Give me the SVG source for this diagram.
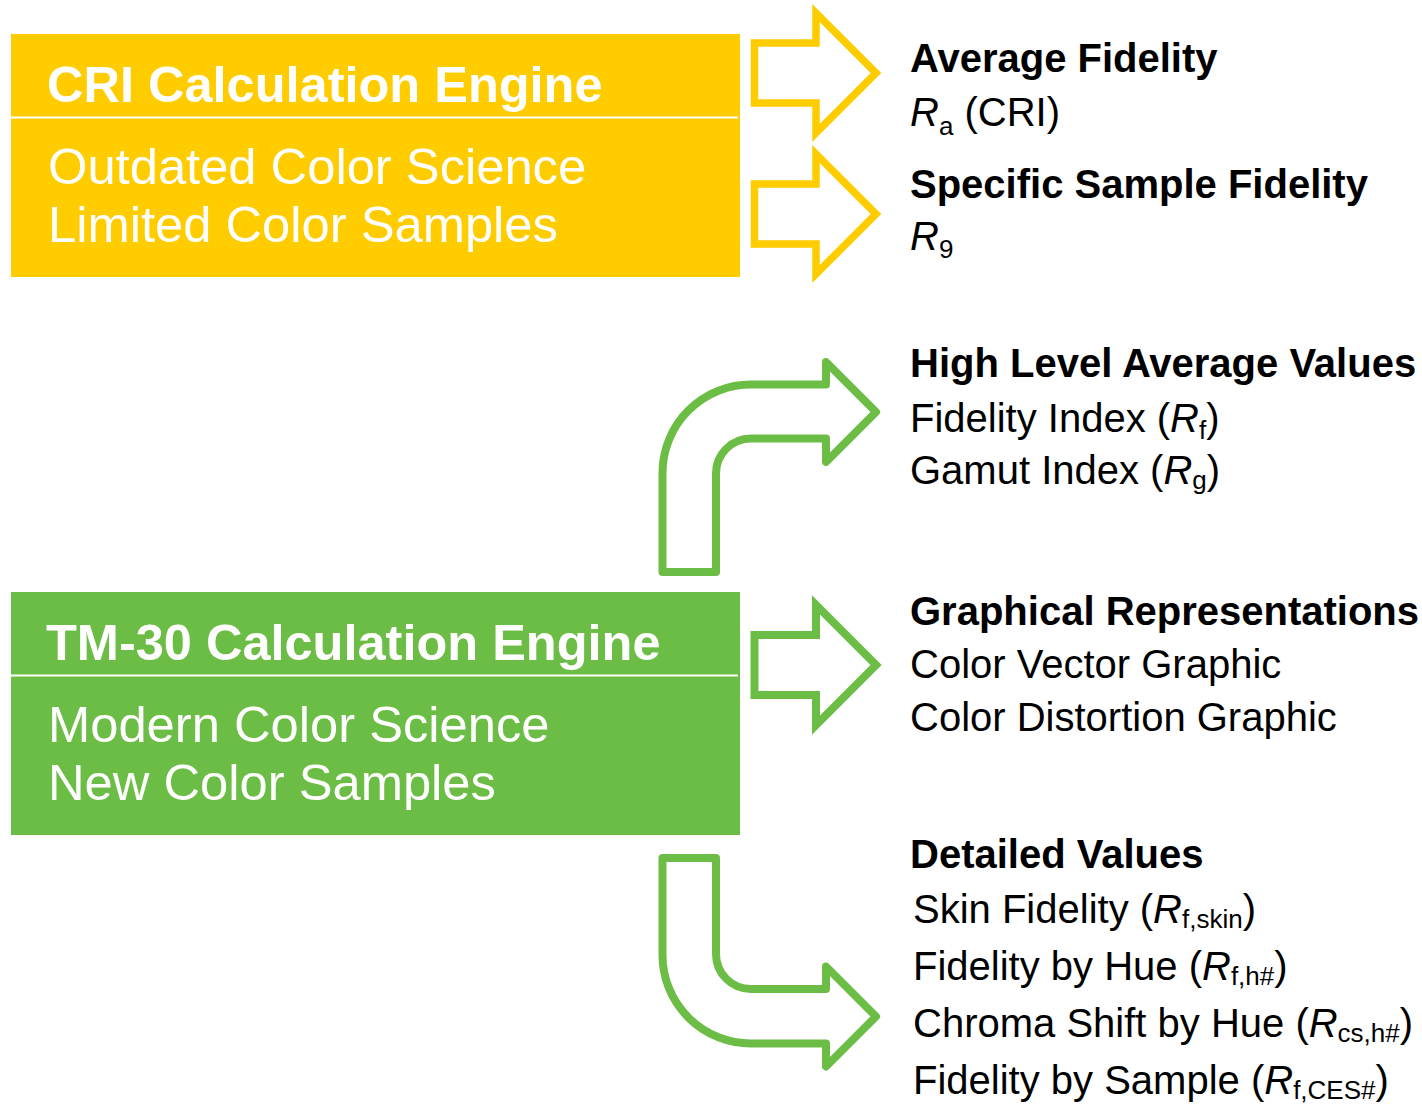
<svg xmlns="http://www.w3.org/2000/svg" width="1422" height="1104" viewBox="0 0 1422 1104">
<style>
.t{font-family:"Liberation Sans",Arial,sans-serif;}
.box-title{font-size:50.5px;font-weight:bold;fill:#fff;}
.box-line{font-size:50.7px;fill:#fff;}
.h{font-size:40px;font-weight:bold;fill:#000;}
.r{font-size:40px;fill:#000;}
.sub{font-size:26px;font-style:normal;}
.it{font-style:italic;}
.ya{fill:none;stroke:#FFCC00;stroke-width:7.5;stroke-linejoin:miter;stroke-miterlimit:10;}
.ga{fill:none;stroke:#6CBD45;stroke-width:8;stroke-linejoin:miter;stroke-miterlimit:10;}
.gc{fill:none;stroke:#6CBD45;stroke-width:8;stroke-linejoin:round;}
.sep{stroke:#fff;stroke-width:2;}
</style>
<rect width="1422" height="1104" fill="#fff"/>
<g id="cri-engine">
  <rect x="11" y="34" width="729" height="243" fill="#FFCC00"/>
  <line class="sep" x1="11" y1="117.5" x2="738" y2="117.5"/>
  <text class="t box-title" x="47" y="102">CRI Calculation Engine</text>
  <text class="t box-line" x="48" y="184">Outdated Color Science</text>
  <text class="t box-line" x="48" y="242">Limited Color Samples</text>
</g>
<g id="tm30-engine">
  <rect x="11" y="592" width="729" height="243" fill="#6CBD45"/>
  <line class="sep" x1="11" y1="675.5" x2="738" y2="675.5"/>
  <text class="t box-title" x="46" y="660">TM-30 Calculation Engine</text>
  <text class="t box-line" x="48" y="742">Modern Color Science</text>
  <text class="t box-line" x="48" y="800">New Color Samples</text>
</g>
<g id="connectors">
  <path class="ya" d="M754.5,43 L816,43 L816,13 L876,73 L816,133 L816,103 L754.5,103 Z"/>
  <path class="ya" d="M754.5,184 L816,184 L816,154 L876,214 L816,274 L816,244 L754.5,244 Z"/>
  <path class="ga" d="M754.5,635 L816,635 L816,605 L876,665 L816,725 L816,695 L754.5,695 Z"/>
  <path class="gc" d="M662.5,572 L662.5,473 A88.5,88.5 0 0 1 751,384.5 L826,384.5 L826,362 L876,412 L826,462 L826,438.5 L751,438.5 A35,35 0 0 0 716,473.5 L716,572 Z"/>
  <path class="gc" d="M662.5,858 L716,858 L716,954 A35,35 0 0 0 751,989 L826,989 L826,966.5 L876,1016.5 L826,1066.5 L826,1043.5 L751,1043.5 A88.5,88.5 0 0 1 662.5,955 Z"/>
</g>
<g id="average-fidelity">
  <text class="t h" x="910" y="72">Average Fidelity</text>
  <text class="t r" x="910" y="126"><tspan class="it">R</tspan><tspan class="sub" dy="9">a</tspan><tspan dy="-9"> (CRI)</tspan></text>
</g>
<g id="specific-sample-fidelity">
  <text class="t h" x="910" y="198">Specific Sample Fidelity</text>
  <text class="t r" x="910" y="250"><tspan class="it">R</tspan><tspan class="sub" dy="8">9</tspan></text>
</g>
<g id="high-level-average-values">
  <text class="t h" x="910" y="377">High Level Average Values</text>
  <text class="t r" x="910" y="432">Fidelity Index (<tspan class="it">R</tspan><tspan class="sub" dy="7">f</tspan><tspan dy="-7">)</tspan></text>
  <text class="t r" x="910" y="484">Gamut Index (<tspan class="it">R</tspan><tspan class="sub" dy="5">g</tspan><tspan dy="-5">)</tspan></text>
</g>
<g id="graphical-representations">
  <text class="t h" x="910" y="625">Graphical Representations</text>
  <text class="t r" x="910" y="678">Color Vector Graphic</text>
  <text class="t r" x="910" y="731">Color Distortion Graphic</text>
</g>
<g id="detailed-values">
  <text class="t h" x="910" y="868">Detailed Values</text>
  <text class="t r" x="913" y="923">Skin Fidelity (<tspan class="it">R</tspan><tspan class="sub" dy="5">f,skin</tspan><tspan dy="-5">)</tspan></text>
  <text class="t r" x="913" y="980">Fidelity by Hue (<tspan class="it">R</tspan><tspan class="sub" dy="5">f,h#</tspan><tspan dy="-5">)</tspan></text>
  <text class="t r" x="913" y="1037">Chroma Shift by Hue (<tspan class="it">R</tspan><tspan class="sub" dy="5">cs,h#</tspan><tspan dy="-5">)</tspan></text>
  <text class="t r" x="913" y="1094">Fidelity by Sample (<tspan class="it">R</tspan><tspan class="sub" dy="5">f,CES#</tspan><tspan dy="-5">)</tspan></text>
</g>
</svg>
